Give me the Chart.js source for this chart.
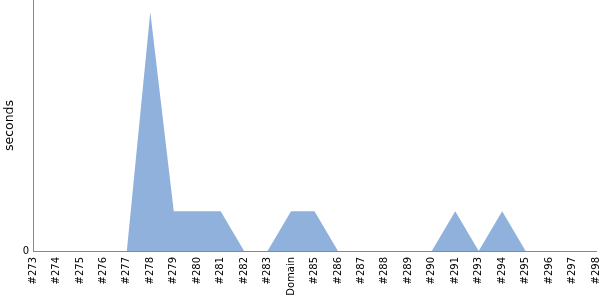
<!DOCTYPE html>
<html>
<head>
<meta charset="utf-8">
<script src="https://cdn.jsdelivr.net/npm/chart.js@4"></script>
<style>
  html, body { margin: 0; padding: 0; background: #fff; }
  #wrap { width: 600px; height: 300px; }
</style>
</head>
<body>
<div id="wrap"><canvas id="buildChart" width="600" height="300"></canvas></div>
<script>
// builds on the x-axis
const builds = ['#273', '#274', '#275', '#276', '#277', '#278', '#279', '#280', '#281', '#282',
    '#283', 'Domain', '#285', '#286', '#287', '#288', '#289', '#290', '#291', '#293',
    '#294', '#295', '#296', '#297', '#298'];
// duration per build (seconds)
const durations = [0, 0, 0, 0, 0, 6, 1, 1, 1, 0,
    0, 1, 1, 0, 0, 0, 0, 0, 1, 0,
    1, 0, 0, 0, 0];
const yTicks = [0];

const axisColor = '#888888';

// drop the extra room chart.js keeps for label overhang
function noPadding(scale) {
    scale.paddingLeft = 0;
    scale.paddingRight = 0;
    scale.paddingTop = 0;
    scale.paddingBottom = 0;
}

const ctx = document.getElementById('buildChart').getContext('2d');
const chart = new Chart(ctx, {
    type: 'line',
    data: {
        labels: builds,
        datasets: [{
            label: 'seconds',
            data: durations,
            fill: 'origin',
            backgroundColor: 'rgb(143, 177, 220)',
            borderWidth: 0,
            borderColor: 'rgba(0,0,0,0)',
            pointRadius: 0,
            tension: 0
        }]
    },
    options: {
        responsive: false,
        animation: false,
        layout: { padding: { top: 0, right: 4, left: 0, bottom: 0 } },
        plugins: {
            legend: { display: false },
            tooltip: { enabled: false }
        },
        scales: {
            x: {
                grid: { display: false, drawTicks: false },
                border: { color: axisColor, width: 1 },
                ticks: {
                    autoSkip: false,
                    minRotation: 90,
                    maxRotation: 90,
                    padding: 6,
                    color: '#000',
                    font: { family: 'DejaVu Sans', size: 10 }
                },
                afterFit: scale => { scale.height = 49; noPadding(scale); }
            },
            y: {
                min: 0,
                max: 6.3,
                grid: { display: false, drawTicks: false },
                border: { color: axisColor, width: 1 },
                afterBuildTicks: scale => { scale.ticks = yTicks.map(v => ({ value: v })); },
                ticks: {
                    padding: 4,
                    color: '#000',
                    font: { family: 'DejaVu Sans', size: 10 }
                },
                title: {
                    display: true,
                    text: 'seconds',
                    color: '#000',
                    padding: { top: 2, bottom: 2 },
                    font: { family: 'DejaVu Sans', size: 12.5 }
                },
                afterFit: scale => { scale.width = 33; noPadding(scale); }
            }
        }
    }
});
</script>
</body>
</html>
